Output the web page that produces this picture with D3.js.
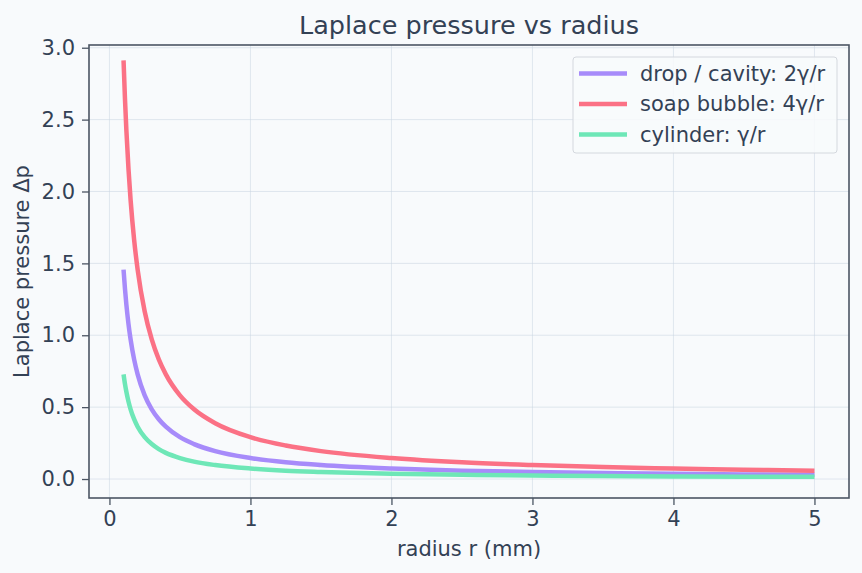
<!DOCTYPE html>
<html>
<head>
<meta charset="utf-8">
<script src="https://cdn.jsdelivr.net/npm/d3@7"></script>
<style>
  body { margin: 0; background: #f8fafc; }
  svg { display: block; font-family: "DejaVu Sans", sans-serif; }
</style>
</head>
<body>
<svg id="chart"></svg>
<script>
// 页面大小
var width = 862;
var height = 573;
var padding = { top: 45, right: 13, bottom: 75, left: 89 };

// 读图得到的数据 (半径 mm, 压力)
var radius = [0.1, 0.11, 0.12, 0.135, 0.15, 0.175, 0.2, 0.25, 0.3, 0.35, 0.4, 0.5, 0.6, 0.75, 1, 1.25, 1.5, 2, 2.5, 3, 3.5, 4, 4.5, 5];
var dropValues = [1.456, 1.324, 1.213, 1.079, 0.971, 0.832, 0.728, 0.582, 0.485, 0.416, 0.364, 0.291, 0.243, 0.194, 0.146, 0.116, 0.097, 0.073, 0.058, 0.049, 0.042, 0.036, 0.032, 0.029];
var soapValues = [2.912, 2.647, 2.427, 2.157, 1.941, 1.664, 1.456, 1.165, 0.971, 0.832, 0.728, 0.582, 0.485, 0.388, 0.291, 0.233, 0.194, 0.146, 0.116, 0.097, 0.083, 0.073, 0.065, 0.058];
var cylValues = [0.728, 0.662, 0.607, 0.539, 0.485, 0.416, 0.364, 0.291, 0.243, 0.208, 0.182, 0.146, 0.121, 0.097, 0.073, 0.058, 0.049, 0.036, 0.029, 0.024, 0.021, 0.018, 0.016, 0.015];
var seriesNames = ["drop / cavity: 2γ/r", "soap bubble: 4γ/r", "cylinder: γ/r"];
var seriesColors = ["#a78bfa", "#fb7185", "#6ee7b7"];
var xTicks = [0, 1, 2, 3, 4, 5];
var yTicks = [0, 0.5, 1, 1.5, 2, 2.5, 3];

var textColor = "#334155";
var axisColor = "#4b5563";
var fontSize = "21px";

var svg = d3.select("#chart")
  .attr("width", width)
  .attr("height", height);

var xScale = d3.scaleLinear()
  .domain([-0.145, 5.245])
  .range([padding.left, width - padding.right]);
var yScale = d3.scaleLinear()
  .domain([-0.132, 3.019])
  .range([height - padding.bottom, padding.top]);

// 网格
var grid = svg.append("g");
grid.selectAll(".gx").data(xTicks).enter().append("line")
  .attr("x1", d => xScale(d)).attr("x2", d => xScale(d))
  .attr("y1", padding.top).attr("y2", height - padding.bottom)
  .attr("stroke", "#cbd5e1").attr("stroke-opacity", 0.55).attr("stroke-width", 1);
grid.selectAll(".gy").data(yTicks).enter().append("line")
  .attr("x1", padding.left).attr("x2", width - padding.right)
  .attr("y1", d => yScale(d)).attr("y2", d => yScale(d))
  .attr("stroke", "#cbd5e1").attr("stroke-opacity", 0.55).attr("stroke-width", 1);

// 曲线
var series = [dropValues, soapValues, cylValues];
var line = d3.line()
  .x((d, i) => xScale(radius[i]))
  .y(d => yScale(d))
  .curve(d3.curveMonotoneX);
svg.append("g").selectAll("path")
  .data(series)
  .enter()
  .append("path")
  .attr("d", line)
  .attr("fill", "none")
  .attr("stroke", (d, i) => seriesColors[i])
  .attr("stroke-width", 4.5)
  .attr("stroke-linejoin", "round");

// 坐标轴
var xAxis = d3.axisBottom(xScale).tickValues(xTicks).tickFormat(d3.format("d")).tickSize(7).tickPadding(6);
var gx = svg.append("g")
  .attr("transform", "translate(0," + (height - padding.bottom) + ")")
  .call(xAxis);
var yAxis = d3.axisLeft(yScale).tickValues(yTicks).tickFormat(d3.format(".1f")).tickSize(7).tickPadding(7);
var gy = svg.append("g")
  .attr("transform", "translate(" + padding.left + ",0)")
  .call(yAxis);
[gx, gy].forEach(function(g) {
  g.select(".domain").remove();
  g.selectAll("line").attr("stroke", axisColor).attr("stroke-width", 1.3);
  g.selectAll("text").attr("fill", textColor).attr("font-size", fontSize).attr("font-family", "DejaVu Sans");
});

// 边框
svg.append("rect")
  .attr("x", padding.left).attr("y", padding.top)
  .attr("width", width - padding.right - padding.left)
  .attr("height", height - padding.bottom - padding.top)
  .attr("fill", "none").attr("stroke", axisColor).attr("stroke-width", 1.6);

// 标题和轴标签
svg.append("text")
  .attr("x", (padding.left + width - padding.right) / 2).attr("y", 34)
  .attr("text-anchor", "middle").attr("font-size", "25.5px").attr("fill", textColor)
  .text("Laplace pressure vs radius");
svg.append("text")
  .attr("x", (padding.left + width - padding.right) / 2).attr("y", 556)
  .attr("text-anchor", "middle").attr("font-size", fontSize).attr("fill", textColor)
  .text("radius r (mm)");
svg.append("text")
  .attr("transform", "translate(29," + ((padding.top + height - padding.bottom) / 2) + ") rotate(-90)")
  .attr("text-anchor", "middle").attr("font-size", fontSize).attr("fill", textColor)
  .text("Laplace pressure Δp");

// 图例
var legend = svg.append("g").attr("transform", "translate(573,57)");
legend.append("rect")
  .attr("width", 264).attr("height", 96).attr("rx", 3)
  .attr("fill", "#f8fafc").attr("fill-opacity", 0.85)
  .attr("stroke", "#d4d8de").attr("stroke-width", 1);
var items = legend.selectAll(".item").data(seriesNames).enter().append("g")
  .attr("transform", (d, i) => "translate(0," + (16.5 + i * 30.5) + ")");
items.append("line")
  .attr("x1", 6).attr("x2", 54)
  .attr("stroke", (d, i) => seriesColors[i]).attr("stroke-width", 4.5);
items.append("text")
  .attr("x", 67).attr("dy", "0.35em")
  .attr("font-size", fontSize).attr("fill", textColor)
  .text(d => d);
</script>
</body>
</html>
